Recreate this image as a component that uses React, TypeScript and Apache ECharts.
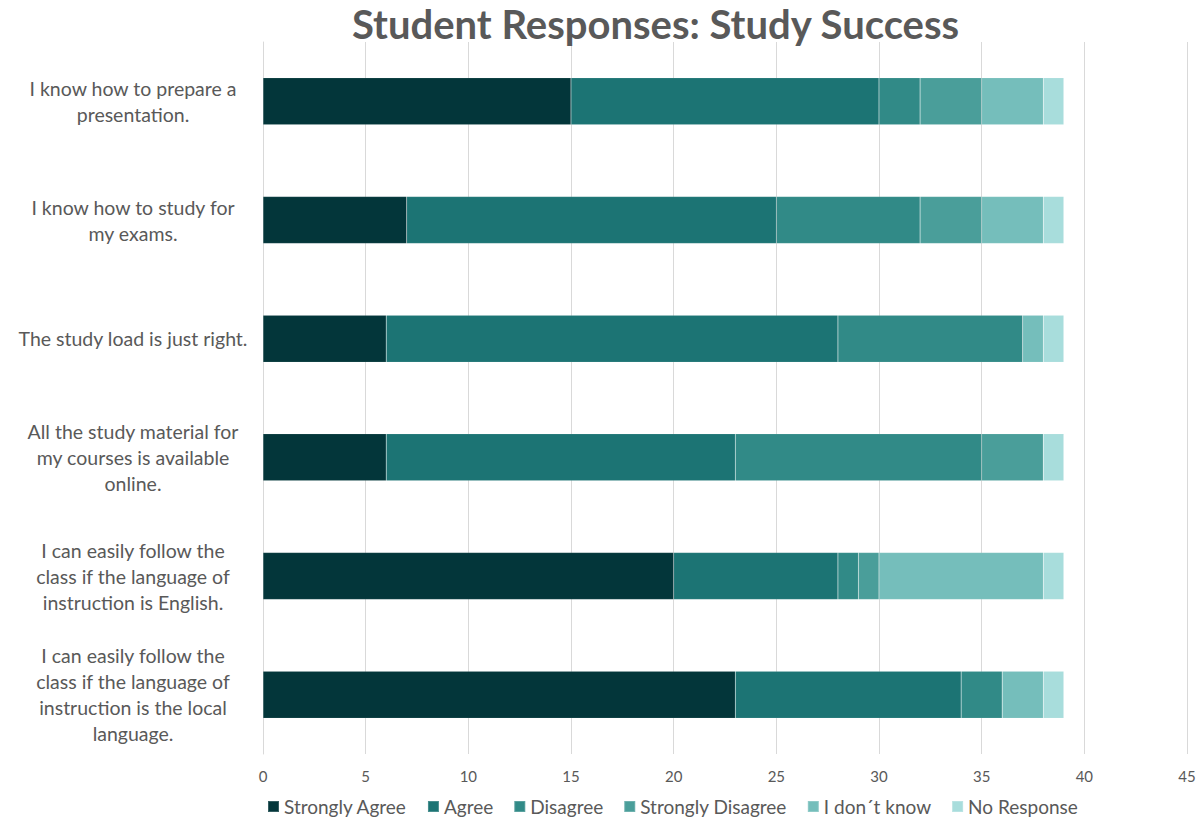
import React, { useEffect, useRef } from "react";
import * as echarts from "echarts";

const categories = [
  "I know how to prepare a\npresentation.",
  "I know how to study for\nmy exams.",
  "The study load is just right.",
  "All the study material for\nmy courses is available\nonline.",
  "I can easily follow the\nclass if the language of\ninstruction is English.",
  "I can easily follow the\nclass if the language of\ninstruction is the local\nlanguage.",
];

const seriesNames = ["Strongly Agree", "Agree", "Disagree", "Strongly Disagree", "I don´t know", "No Response"];
const stronglyAgree = [15, 7, 6, 6, 20, 23];
const agree = [15, 18, 22, 17, 8, 11];
const disagree = [2, 7, 9, 12, 1, 2];
const stronglyDisagree = [3, 3, 0, 3, 1, 0];
const dontKnow = [3, 3, 1, 0, 8, 2];
const noResponse = [1, 1, 1, 1, 1, 1];
const colors = ["#03363A", "#1C7474", "#318A87", "#4A9E9A", "#75BEBB", "#A8DDDC"];
const xTicks = { min: 0, max: 45, interval: 5 };

export default function App() {
  const ref = useRef<HTMLDivElement>(null);
  useEffect(() => {
    document.body.style.margin = "0";
    const chart = echarts.init(ref.current!, null, { renderer: "svg" });
    const allData = [stronglyAgree, agree, disagree, stronglyDisagree, dontKnow, noResponse];
    chart.setOption({
      animation: false,
      color: colors,
      title: {
        text: "Student Responses: Study Success",
        left: 347,
        top: -1,
        textStyle: { fontFamily: "Lato", fontWeight: "bold", fontSize: 40, color: "#595959" },
      },
      legend: {
        data: seriesNames,
        left: 262,
        top: 792,
        itemWidth: 11,
        itemHeight: 11,
        itemGap: 20,
        icon: "rect",
        textStyle: { fontFamily: "Lato", fontSize: 19, color: "#595959" },
      },
      grid: { left: 263, right: 16, top: 42, bottom: 67, containLabel: false },
      xAxis: {
        type: "value",
        min: xTicks.min,
        max: xTicks.max,
        interval: xTicks.interval,
        axisLine: { show: false },
        axisTick: { show: false },
        splitLine: { lineStyle: { color: "#D9D9D9", width: 1 } },
        axisLabel: { fontFamily: "Lato", fontSize: 15, color: "#595959", margin: 14 },
      },
      yAxis: {
        type: "category",
        data: categories,
        inverse: true,
        axisLine: { show: true, lineStyle: { color: "#D9D9D9" } },
        axisTick: { show: false },
        axisLabel: {
          fontFamily: "Lato",
          fontSize: 19.5,
          color: "#595959",
          align: "center",
          margin: 130,
          lineHeight: 26,
        },
      },
      series: seriesNames.map((name, i) => ({
        name,
        type: "bar",
        stack: "total",
        barWidth: 47,
        data: allData[i],
        itemStyle: { color: colors[i], borderColor: "rgba(255,255,255,0.2)", borderWidth: 0.5 },
        emphasis: { disabled: true },
      })),
    });
    return () => chart.dispose();
  }, []);
  return <div ref={ref} style={{ width: 1203, height: 821 }} />;
}
